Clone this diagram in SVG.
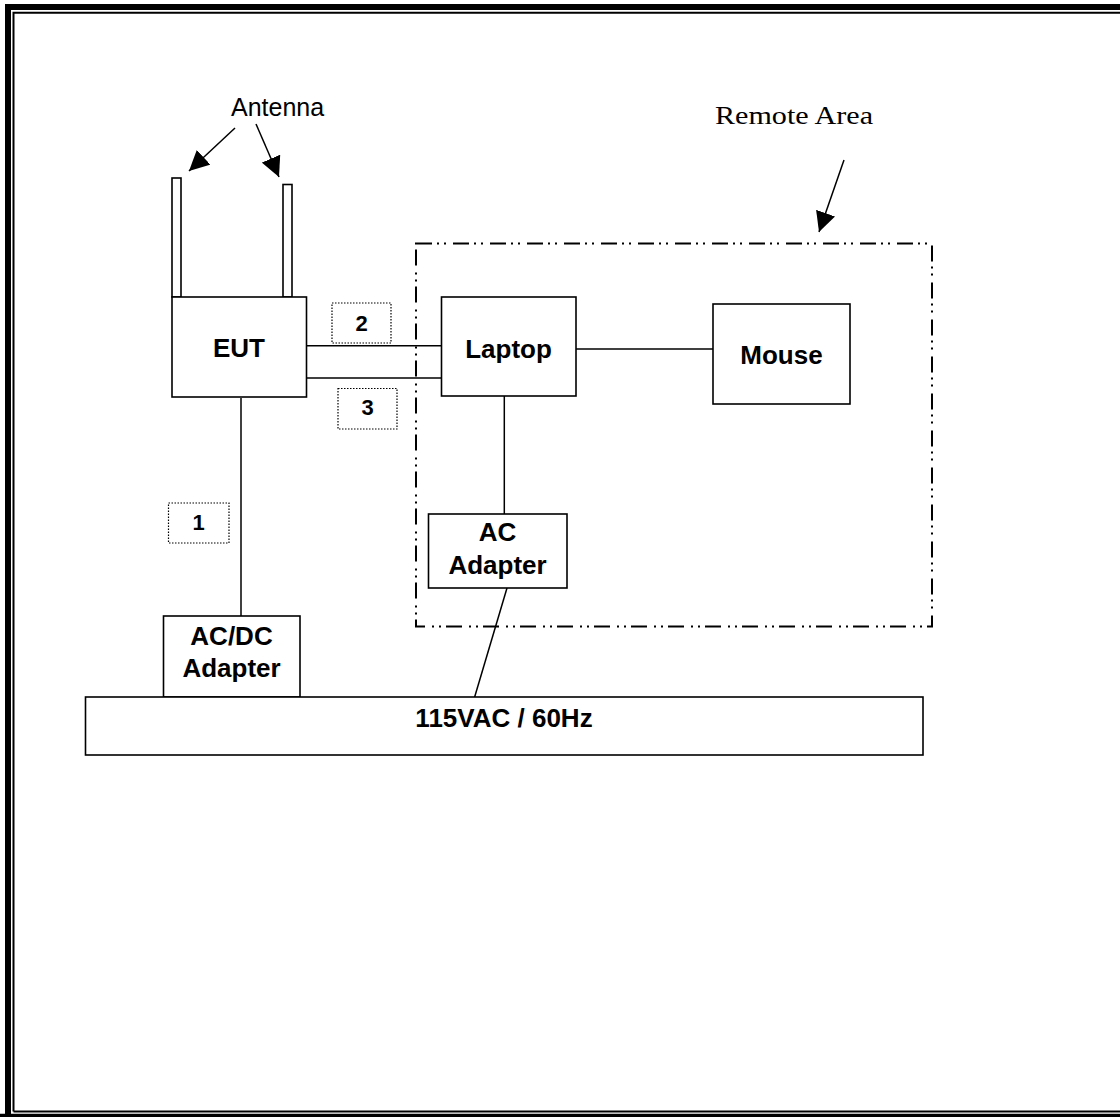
<svg xmlns="http://www.w3.org/2000/svg" width="1120" height="1117" viewBox="0 0 1120 1117">
<defs>
<style>
.box{fill:#fff;stroke:#000;stroke-width:1.6}
.lbl{fill:none;stroke:#000;stroke-width:1.2;stroke-dasharray:1.5 1.5}
.ln{stroke:#000;stroke-width:1.5;fill:none}
.b{font-family:"Liberation Sans",Arial,sans-serif;font-weight:bold;font-size:26px;text-anchor:middle;fill:#000}
.n{font-family:"Liberation Sans",Arial,sans-serif;font-weight:bold;font-size:22px;text-anchor:middle;fill:#000}
</style>
<marker id="ahb" viewBox="0 0 20 20" refX="20" refY="10" markerWidth="20" markerHeight="20" markerUnits="userSpaceOnUse" orient="auto">
<path d="M0,0 L20,10 L0,20 z" fill="#000"/>
</marker>
</defs>
<rect width="1120" height="1117" fill="#fff"/>
<g id="frame">
<path d="M8,1117 V7 H1120" fill="none" stroke="#000" stroke-width="6"/>
<path d="M0,1115.5 H1120" stroke="#000" stroke-width="3.5"/>
<path d="M13.5,1111.5 V12.7 H1120 M13.5,1111.5 H1120" fill="none" stroke="#000" stroke-width="2"/>
</g>
<g id="remote-area">
<rect x="416" y="243.5" width="516" height="383" fill="none" stroke="#000" stroke-width="2" stroke-dasharray="16 5 2 5 2 7"/>
<text x="715" y="124" font-family="'Liberation Serif','Times New Roman',serif" font-size="25" textLength="158" lengthAdjust="spacingAndGlyphs">Remote Area</text>
</g>
<g id="antenna-label">
<text x="231" y="116" font-family="'Liberation Sans',Arial,sans-serif" font-size="25">Antenna</text>
</g>
<g id="connectors">
<line class="ln" x1="235" y1="128" x2="189" y2="171" marker-end="url(#ahb)"/>
<line class="ln" x1="256" y1="124" x2="279" y2="177" marker-end="url(#ahb)"/>
<line class="ln" x1="844" y1="160" x2="819" y2="232" marker-end="url(#ahb)"/>
<line class="ln" x1="306" y1="345.7" x2="441.5" y2="345.7"/>
<line class="ln" x1="303" y1="378" x2="441" y2="378"/>
<line class="ln" x1="576" y1="349" x2="713" y2="349"/>
<line class="ln" x1="504.3" y1="396" x2="504.3" y2="514"/>
<line class="ln" x1="241" y1="398" x2="241" y2="616"/>
<line class="ln" x1="507" y1="588" x2="469" y2="716"/>
</g>
<g id="antenna-left"><rect class="box" x="172" y="178" width="9" height="119"/></g>
<g id="antenna-right"><rect class="box" x="283" y="184.5" width="9" height="112.5"/></g>
<g id="eut">
<rect class="box" x="172" y="297" width="134.5" height="100"/>
<text class="b" x="239" y="357">EUT</text>
</g>
<g id="laptop">
<rect class="box" x="441.5" y="297" width="134.5" height="99"/>
<text class="b" x="508.5" y="357.7">Laptop</text>
</g>
<g id="mouse">
<rect class="box" x="713" y="304" width="137" height="100"/>
<text class="b" x="781.5" y="364">Mouse</text>
</g>
<g id="ac-adapter">
<rect class="box" x="428.5" y="514" width="138.5" height="74"/>
<text class="b" x="497.5" y="541">AC</text>
<text class="b" x="497.5" y="574">Adapter</text>
</g>
<g id="acdc-adapter">
<rect class="box" x="163.5" y="616" width="136.5" height="81"/>
<text class="b" x="231.5" y="645">AC/DC</text>
<text class="b" x="231.5" y="677">Adapter</text>
</g>
<g id="mains">
<rect class="box" x="85.5" y="697" width="837.5" height="58"/>
<text class="b" x="504" y="727">115VAC / 60Hz</text>
</g>
<g id="label-1">
<rect class="lbl" x="168.5" y="503" width="60.5" height="40"/>
<text class="n" x="198.5" y="530">1</text>
</g>
<g id="label-2">
<rect class="lbl" x="332" y="303" width="59" height="40"/>
<text class="n" x="361.5" y="331">2</text>
</g>
<g id="label-3">
<rect class="lbl" x="338" y="388.5" width="59" height="40.5"/>
<text class="n" x="367.5" y="415">3</text>
</g>
</svg>
